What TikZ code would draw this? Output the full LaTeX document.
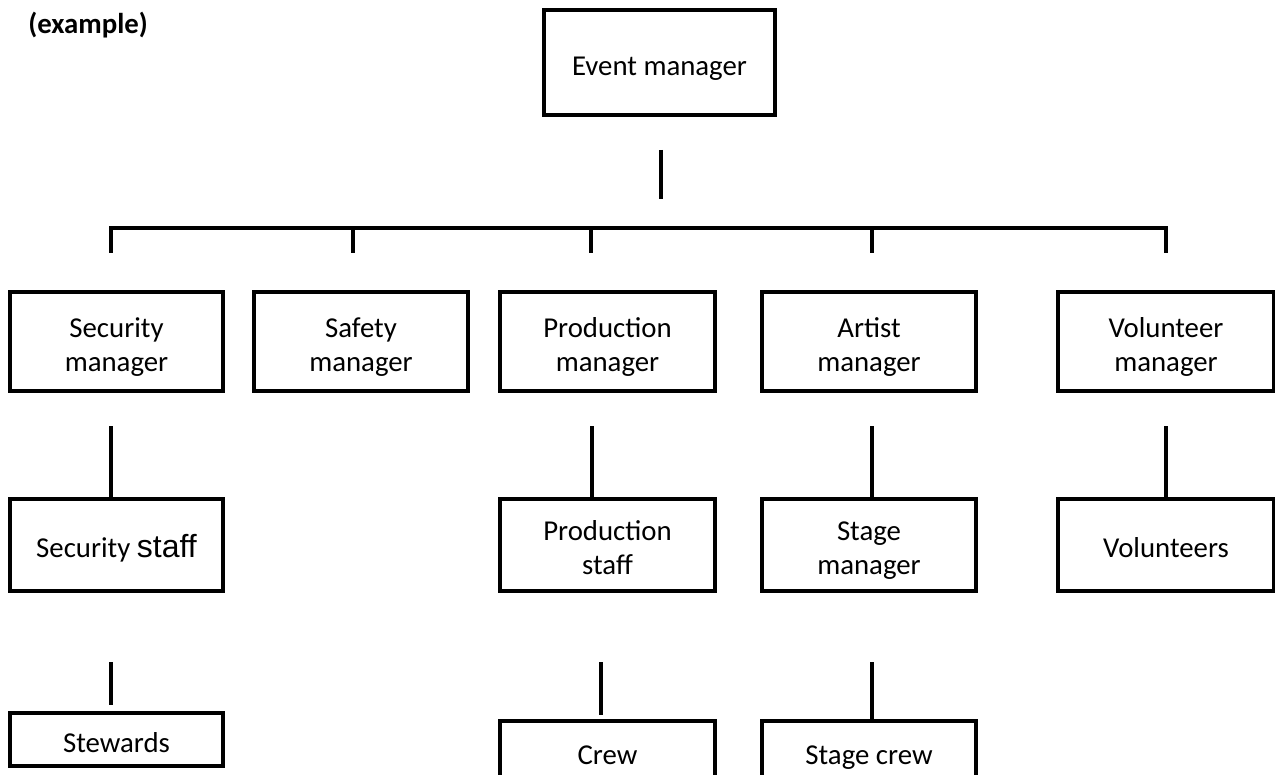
\documentclass[tikz,border=0pt]{standalone}
\usepackage{fontspec}
\setmainfont{Carlito}
\newfontfamily\arialfont{Liberation Sans}
\usetikzlibrary{calc}
\newcommand{\boxtext}[1]{\raisebox{-3pt}[\height][\depth]{\begin{tabular}{@{}c@{}}#1\end{tabular}}}
\tikzset{
	box/.style 2 args={draw,line width=2pt,minimum width=#1,minimum height=#2,inner sep=0pt,font=\fontsize{14.4}{17}\selectfont},
	link/.style={line width=2pt}
}
\begin{document}
\begin{tikzpicture}[x=0.5pt,y=-0.5pt]
	\clip (0,0) rectangle (1275,775);
	\fill [white] (0,0) rectangle (1275,775);

	\node [font=\bfseries\fontsize{14.4}{17}\selectfont,anchor=west,inner sep=0pt] (title) at (28,25) {(example)};

	\node [box={115.5pt}{52.5pt}] (event) at (659.5,62.5) {\boxtext{Event manager}};

	\node [box={106.5pt}{49.5pt}] (secmgr) at (116.5,341.5) {\boxtext{Security\\manager}};
	\node [box={107pt}{49.5pt}] (safmgr) at (361,341.5) {\boxtext{Safety\\manager}};
	\node [box={107.5pt}{49.5pt}] (promgr) at (607.5,341.5) {\boxtext{Production\\manager}};
	\node [box={107pt}{49.5pt}] (artmgr) at (869,341.5) {\boxtext{Artist\\manager}};
	\node [box={108pt}{49.5pt}] (volmgr) at (1166,341.5) {\boxtext{Volunteer\\manager}};

	\node [box={106.5pt}{46pt}] (secstaff) at (116.5,545) {\boxtext{Security {\arialfont\fontsize{16}{17}\selectfont staff}}};
	\node [box={107.5pt}{46pt}] (prostaff) at (607.5,545) {\boxtext{Production\\staff}};
	\node [box={107pt}{46pt}] (stagemgr) at (869,545) {\boxtext{Stage\\manager}};
	\node [box={108pt}{46pt}] (vols) at (1166,545) {\boxtext{Volunteers}};

	\node [box={106.5pt}{26.5pt}] (stewards) at (116.5,739.5) {\boxtext{Stewards}};
	\node [box={107.5pt}{31pt}] (crew) at (607.5,752) {\boxtext{Crew}};
	\node [box={107pt}{31pt}] (stagecrew) at (869,752) {\boxtext{Stage crew}};

	% top level
	\draw [link] ($(event.south)+(1.5,33)$) -- ++(0,49);
	\draw [link] ($(secmgr.north)+(-5.5,-37)$) -- ++(0,-25) -- ($(volmgr.north)+(0,-62)$) -- ++(0,25);
	\foreach \n/\dx in {safmgr/-8,promgr/-16.5,artmgr/3}
		\draw [link] ($(\n.north)+(\dx,-62)$) -- ++(0,25);

	% managers to staff
	\foreach \m/\s/\dx in {secmgr/secstaff/-5.5,promgr/prostaff/-16,artmgr/stagemgr/3,volmgr/vols/0}
		\draw [link] ($(\m.south)+(\dx,33)$) -- ($(\s.north)+(\dx,0)$);

	% staff to crews
	\draw [link] ($(secstaff.south)+(-5.5,69)$) -- ++(0,43);
	\draw [link] ($(prostaff.south)+(-6.5,69)$) -- ++(0,53);
	\draw [link] ($(stagemgr.south)+(3,69)$) -- ($(stagecrew.north)+(3,0)$);
\end{tikzpicture}
\end{document}
